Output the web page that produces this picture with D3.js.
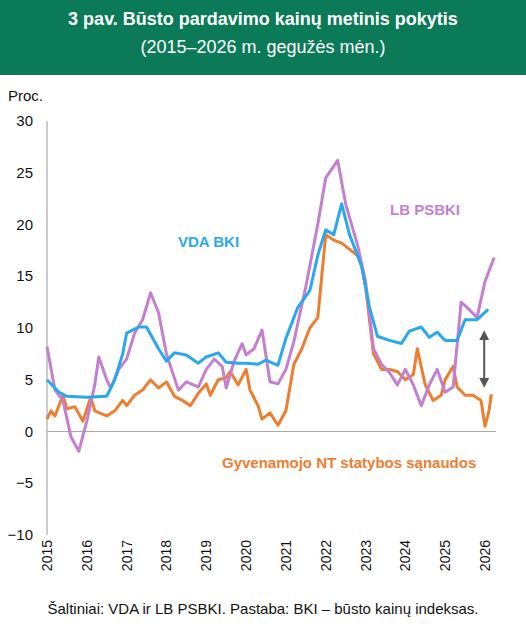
<!DOCTYPE html><html><head><meta charset="utf-8"><script src="https://d3js.org/d3.v7.min.js"></script>
<style>body{margin:0;background:#fff;font-family:"Liberation Sans",Arial,sans-serif}</style></head><body><svg id="c" width="526" height="627"></svg>
<script>
const yTicks=[-10,-5,0,5,10,15,20,25,30];
const xYears=[2015,2016,2017,2018,2019,2020,2021,2022,2023,2024,2025,2026];
const vdaT=[2015.0,2015.3,2015.5,2016.0,2016.5,2016.7,2016.9,2017.0,2017.3,2017.5,2017.8,2018.0,2018.2,2018.5,2018.8,2019.0,2019.3,2019.5,2019.8,2020.0,2020.3,2020.5,2020.8,2021.0,2021.3,2021.6,2021.8,2022.0,2022.2,2022.4,2022.6,2022.9,2023.1,2023.3,2023.6,2023.9,2024.1,2024.4,2024.6,2024.8,2025.0,2025.3,2025.5,2025.8,2026.08];
const vdaV=[5.0,3.8,3.4,3.3,3.4,5,7.5,9.5,10.1,10.1,8,6.8,7.6,7.4,6.6,7.2,7.6,6.7,6.6,6.6,6.5,6.9,6.4,9,12,13.6,17,19.5,19,22,19,16,12,9.2,8.8,8.5,9.7,10.1,9.1,9.6,8.8,8.8,10.8,10.8,11.8];
const lbT=[2015.0,2015.2,2015.4,2015.6,2015.8,2016.0,2016.2,2016.3,2016.5,2016.6,2016.8,2017.0,2017.2,2017.4,2017.6,2017.8,2018.0,2018.3,2018.5,2018.8,2019.0,2019.2,2019.4,2019.5,2019.7,2019.9,2020.0,2020.2,2020.4,2020.6,2020.8,2021.0,2021.2,2021.5,2021.8,2022.0,2022.3,2022.5,2022.8,2023.0,2023.2,2023.4,2023.6,2023.8,2024.0,2024.2,2024.4,2024.6,2024.8,2025.0,2025.2,2025.4,2025.6,2025.8,2026.0,2026.23];
const lbV=[8.2,4,3,-0.5,-1.9,1,4.5,7.2,5,4.2,6,7,9.5,10.8,13.4,11.5,7.5,4,4.8,4.3,6,7,6.3,4.2,6.8,8.5,7.4,8,9.8,4.8,4.6,6,8.7,14,20,24.5,26.2,22,18,14.5,8,6.5,5.7,4.5,6,4.5,2.5,4.5,6,3.8,4.3,12.5,11.8,11,14.5,16.8];
const ntT=[2015.0,2015.1,2015.2,2015.4,2015.5,2015.7,2015.9,2016.1,2016.2,2016.5,2016.7,2016.9,2017.0,2017.2,2017.4,2017.6,2017.8,2018.0,2018.2,2018.4,2018.6,2018.8,2019.0,2019.1,2019.3,2019.5,2019.6,2019.8,2020.0,2020.1,2020.3,2020.4,2020.6,2020.8,2021.0,2021.2,2021.4,2021.6,2021.8,2021.9,2022.0,2022.2,2022.4,2022.6,2022.8,2022.9,2023.0,2023.2,2023.4,2023.6,2023.8,2024.0,2024.2,2024.3,2024.5,2024.7,2024.9,2025.0,2025.2,2025.3,2025.5,2025.7,2025.9,2026.0,2026.1,2026.16];
const ntV=[1.2,2,1.5,3.5,2.2,2.4,1,3.3,2,1.5,2,3,2.5,3.5,4,5,4.2,4.8,3.4,3,2.5,3.7,4.6,3.5,5,5.2,5.8,4.5,6,4,2.5,1.2,1.8,0.6,2,6.5,8,10,11,15,19,18.5,18.2,17.6,17,16,14,7.5,6,6,5.8,5,5.5,8,4.5,3,3.5,5,6.3,4.3,3.5,3.5,3,0.5,2,3.6];
const svg=d3.select("#c");
svg.append("rect").attr("width",526).attr("height",75).attr("fill","#0b7a57");
svg.append("text").attr("x",263).attr("y",25).attr("text-anchor","middle").attr("fill","#fff").attr("font-size",18).attr("font-weight","bold").text("3 pav. Būsto pardavimo kainų metinis pokytis");
svg.append("text").attr("x",263).attr("y",53).attr("text-anchor","middle").attr("fill","#fff").attr("font-size",18).text("(2015–2026 m. gegužės mėn.)");
const x=d3.scaleLinear().domain([2015,2026]).range([47,485]);
const y=d3.scaleLinear().domain([-10,30]).range([535,121]);
const g=svg.append("g");
g.append("line").attr("x1",47).attr("x2",47).attr("y1",121).attr("y2",535).attr("stroke","#aaa").attr("stroke-width",1.2);
g.append("line").attr("x1",47).attr("x2",496).attr("y1",y(0)).attr("y2",y(0)).attr("stroke","#aaa").attr("stroke-width",1.2);
yTicks.forEach(t=>g.append("text").attr("x",33).attr("y",y(t)+5).attr("text-anchor","end").attr("font-size",15).attr("fill","#111").text(t<0?"−"+(-t):t));
svg.append("text").attr("x",8).attr("y",101).attr("font-size",15).attr("fill","#111").text("Proc.");
xYears.forEach(t=>g.append("text").attr("transform",`translate(${x(t)+5},540) rotate(-90)`).attr("text-anchor","end").attr("font-size",14).attr("fill","#111").text(t));
const line=d3.line().x(d=>x(d[0])).y(d=>y(d[1])).curve(d3.curveLinear);
const draw=(T,V,c)=>g.append("path").attr("d",line(T.map((t,i)=>[t,V[i]]))).attr("fill","none").attr("stroke",c).attr("stroke-width",3).attr("stroke-linejoin","round");
draw(ntT,ntV,"#ef7d2e");draw(lbT,lbV,"#c57fd0");draw(vdaT,vdaV,"#29a8f0");
svg.append("defs").append("marker").attr("id","ah").attr("viewBox","0 0 10 10").attr("refX",5).attr("refY",5).attr("markerWidth",5).attr("markerHeight",5).attr("orient","auto-start-reverse").append("path").attr("d","M0,0L10,5L0,10z").attr("fill","#555");
g.append("line").attr("x1",x(2025.98)).attr("x2",x(2025.98)).attr("y1",y(9.3)).attr("y2",y(4.7)).attr("stroke","#555").attr("stroke-width",2).attr("marker-start","url(#ah)").attr("marker-end","url(#ah)");
svg.append("text").attr("x",178).attr("y",247).attr("font-size",15).attr("font-weight","bold").attr("fill","#29a8f0").text("VDA BKI");
svg.append("text").attr("x",390).attr("y",215).attr("font-size",15).attr("font-weight","bold").attr("fill","#c57fd0").text("LB PSBKI");
svg.append("text").attr("x",222).attr("y",468).attr("font-size",15).attr("font-weight","bold").attr("fill","#ef7d2e").text("Gyvenamojo NT statybos sąnaudos");
svg.append("text").attr("x",263).attr("y",614).attr("text-anchor","middle").attr("font-size",15).attr("fill","#111").text("Šaltiniai: VDA ir LB PSBKI. Pastaba: BKI – būsto kainų indeksas.");
</script></body></html>
